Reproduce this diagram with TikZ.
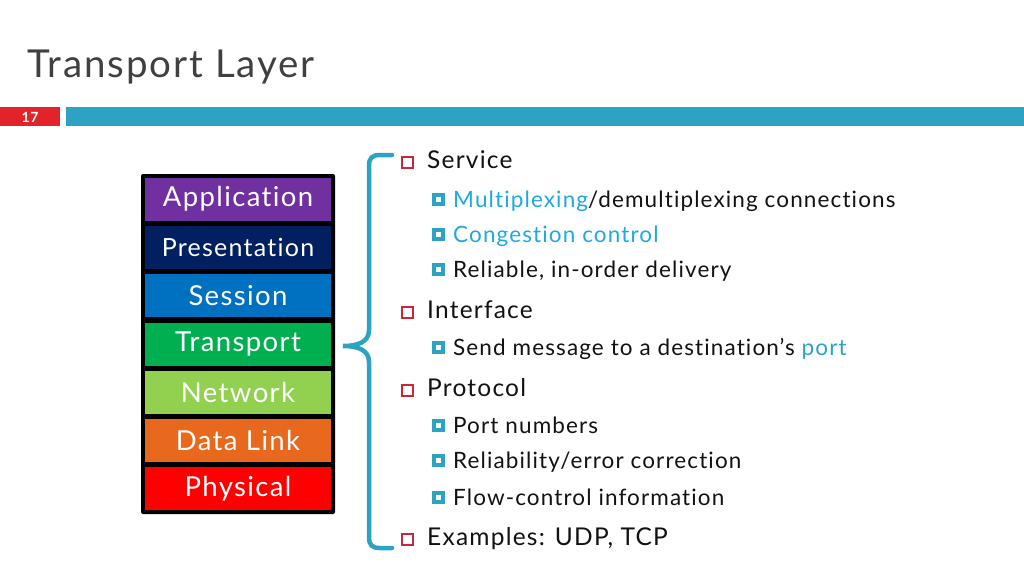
\documentclass[tikz,border=0pt]{standalone}
\usepackage{fontspec}
\setmainfont{Lato}[LetterSpace=5, Ligatures=NoCommon]
\definecolor{titlegray}{HTML}{404040}
\definecolor{numred}{HTML}{E2232A}
\definecolor{barblue}{HTML}{2CA3C2}
\definecolor{linkblue}{HTML}{1FA9E1}
\definecolor{boxred}{HTML}{C8283C}
\definecolor{appviolet}{HTML}{7030A0}
\definecolor{presnavy}{HTML}{002060}
\definecolor{sessblue}{HTML}{0070C0}
\definecolor{transgreen}{HTML}{00B050}
\definecolor{netgreen}{HTML}{92D050}
\definecolor{linkorange}{HTML}{E8681E}
\definecolor{physred}{HTML}{FF0000}
\begin{document}
\begin{tikzpicture}[x=1pt, y=-1pt,
    layer/.style={minimum width=186pt, minimum height=43pt, inner sep=0pt, text=white, font=\fontsize{27.5}{27.5}\selectfont},
    topitem/.style={anchor=base west, inner sep=0pt, text=black!93, font=\fontsize{24.5}{24.5}\selectfont},
    subitem/.style={anchor=base west, inner sep=0pt, text=black!93, font=\fontsize{22.5}{22.5}\selectfont}]
        \useasboundingbox (0,0) rectangle (1024,576);

        % title and slide number
        \node[anchor=base west, inner sep=0pt, text=titlegray, font=\fontsize{38.5}{38.5}\selectfont] (title) at (27,77) {Transport Layer};
        \fill[numred] (0,107) rectangle (60,126);
        \fill[barblue] (66,107) rectangle (1024,126);
        \node[text=white, font=\bfseries\fontsize{14}{14}\selectfont] (num) at (30,117) {17};

        % OSI stack
        \fill[black, rounded corners=2pt] (141,174) rectangle (335,514);
        \node[layer, fill=appviolet] (app) at (238,199) {Application};
        \node[layer, fill=presnavy, font=\fontsize{25}{25}\selectfont] (pres) at (238,247) {Presentation};
        \node[layer, fill=sessblue] (sess) at (238,295.5) {Session};
        \node[layer, fill=transgreen] (trans) at (238,344) {Transport};
        \node[layer, fill=netgreen] (net) at (238,392) {Network};
        \node[layer, fill=linkorange] (link) at (238,440.5) {Data Link};
        \node[layer, fill=physred] (phys) at (238,488.5) {Physical};

        % brace
        \coordinate (tip) at (343,346);
        \draw[barblue, line width=4.5pt, line cap=round] (392,155) -- (380,155) .. controls (372,155) and (369,158) .. (369,166) -- (369,330) .. controls (369,342) and (358,346) .. (tip) .. controls (358,346) and (369,350) .. (369,362) -- (369,537) .. controls (369,545) and (372,548) .. (380,548) -- (392,548);

        % bullets
        \draw[boxred, line width=1.1pt] (402,157) rectangle (413,168);
        \draw[barblue, line width=4pt] (434,195) rectangle (443,204);
        \draw[barblue, line width=4pt] (434,230) rectangle (443,239);
        \draw[barblue, line width=4pt] (434,265) rectangle (443,274);
        \draw[boxred, line width=1.1pt] (402,307) rectangle (413,318);
        \draw[barblue, line width=4pt] (434,343) rectangle (443,352);
        \draw[boxred, line width=1.1pt] (402,385) rectangle (413,396);
        \draw[barblue, line width=4pt] (434,421) rectangle (443,430);
        \draw[barblue, line width=4pt] (434,456) rectangle (443,465);
        \draw[barblue, line width=4pt] (434,493) rectangle (443,502);
        \draw[boxred, line width=1.1pt] (402,534) rectangle (413,545);

        % items
        \node[topitem] (service) at (427,168) {Service};
        \node[subitem] (mux) at (453,207) {\textcolor{linkblue}{Multiplexing}/demultiplexing connections};
        \node[subitem, text=linkblue] (cong) at (453,242) {Congestion control};
        \node[subitem] (rel) at (453,277) {Reliable, in-order delivery};
        \node[topitem] (iface) at (427,318) {Interface};
        \node[subitem] (send) at (453,355) {Send message to a destination’s \textcolor{barblue}{port}};
        \node[topitem] (proto) at (427,396) {Protocol};
        \node[subitem] (portnum) at (453,433) {Port numbers};
        \node[subitem] (relerr) at (453,468) {Reliability/error correction};
        \node[subitem] (flow) at (453,505) {Flow-control information};
        \node[topitem] (examples) at (427,545) {Examples: UDP, TCP};
\end{tikzpicture}
\end{document}
